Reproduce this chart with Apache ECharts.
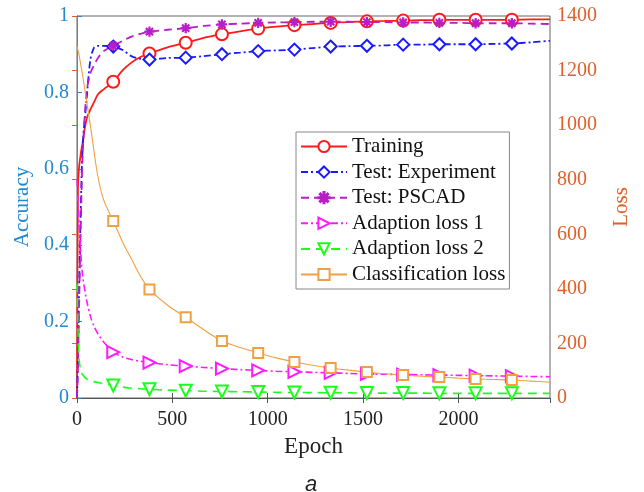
<!DOCTYPE html>
<html>
<head>
<meta charset="utf-8">
<script src="https://cdn.jsdelivr.net/npm/echarts@6/dist/echarts.min.js"></script>
<style>html,body{margin:0;padding:0;background:#fff;}#c{width:644px;height:492px;}</style>
</head>
<body>
<div id="c"></div>
<script>
// Epoch samples (shared by all series)
const epochs = [0, 5, 10, 20, 30, 50, 70, 90, 110, 140, 190, 240, 285, 330, 380, 475, 570, 665, 760, 855, 950, 1045, 1140, 1235, 1330, 1425, 1520, 1615, 1710, 1805, 1900, 1995, 2090, 2185, 2280, 2380, 2480];
// Epochs that carry a marker
const markerEpochs = [190, 380, 570, 760, 950, 1140, 1330, 1520, 1710, 1900, 2090, 2280];

// Accuracy series (left axis)
const training = [0, 0.55, 0.60, 0.64, 0.67, 0.73, 0.755, 0.775, 0.795, 0.808, 0.828, 0.858, 0.878, 0.892, 0.902, 0.918, 0.930, 0.943, 0.952, 0.960, 0.967, 0.972, 0.976, 0.979, 0.982, 0.984, 0.986, 0.987, 0.988, 0.989, 0.990, 0.990, 0.990, 0.990, 0.990, 0.991, 0.991];
const testExperiment = [0, 0.10, 0.25, 0.50, 0.66, 0.78, 0.885, 0.918, 0.922, 0.922, 0.920, 0.911, 0.895, 0.888, 0.886, 0.890, 0.891, 0.895, 0.900, 0.904, 0.908, 0.910, 0.912, 0.916, 0.920, 0.921, 0.922, 0.923, 0.925, 0.925, 0.926, 0.926, 0.926, 0.927, 0.928, 0.931, 0.935];
const testPSCAD = [0, 0.08, 0.22, 0.45, 0.64, 0.80, 0.85, 0.872, 0.89, 0.908, 0.922, 0.935, 0.946, 0.953, 0.959, 0.964, 0.968, 0.974, 0.978, 0.980, 0.982, 0.983, 0.984, 0.985, 0.985, 0.985, 0.984, 0.984, 0.983, 0.983, 0.982, 0.982, 0.981, 0.981, 0.981, 0.980, 0.979];

// Loss series (right axis)
const adaptionLoss1 = [800, 720, 650, 530, 445, 360, 300, 262, 235, 205, 168, 150, 141, 135, 130, 122, 117, 112, 108, 104, 101, 98, 96, 94, 92, 90, 88, 87, 86, 85, 84, 83, 82, 81, 80, 79, 78];
const adaptionLoss2 = [420, 250, 150, 100, 85, 70, 64, 60, 57, 52, 46, 40, 36, 34, 32, 29, 27, 25, 24, 23, 22, 21, 20, 20, 19, 19, 18, 18, 18, 18, 17, 17, 17, 17, 17, 17, 17];
const classificationLoss = [1290, 1275, 1260, 1220, 1180, 1090, 1000, 900, 810, 725, 649, 570, 510, 450, 398, 340, 296, 250, 209, 185, 165, 147, 132, 120, 110, 102, 95, 89, 84, 80, 77, 73, 70, 68, 66, 62, 58];

// Axis ticks
const accTicks = [0, 0.2, 0.4, 0.6, 0.8, 1];
const lossTicks = [0, 200, 400, 600, 800, 1000, 1200, 1400];
const epochTicks = [0, 500, 1000, 1500, 2000];

const asterisk = 'path://M0,4.5L10,4.5L10,5.5L0,5.5Z M4.5,0L5.5,0L5.5,10L4.5,10Z M1.85,1.15L8.85,8.15L8.15,8.85L1.15,1.85Z M8.15,1.15L8.85,1.85L1.85,8.85L1.15,8.15Z';

function build(values) {
  return epochs.map((e, i) => {
    const item = { value: [e, values[i]] };
    if (markerEpochs.indexOf(e) < 0) item.symbol = 'none';
    return item;
  });
}

const SERIF = '"Liberation Serif", "DejaVu Serif", serif';
const BLUE = '#2489d2';
const ORANGE = '#e0602a';

const chart = echarts.init(document.getElementById('c'), null, { renderer: 'canvas' });

function mk(name, values, color, lineType, width, symbol, size, yIdx, rot) {
  return {
    name: name, type: 'line', yAxisIndex: yIdx, xAxisIndex: 0,
    data: build(values), smooth: 0.3, showAllSymbol: true,
    symbol: symbol, symbolSize: size, symbolRotate: rot || 0,
    color: color,
    lineStyle: { color: color, width: width, type: lineType },
    itemStyle: { color: color, borderColor: color, borderWidth: 1.3 },
    emphasis: { disabled: true },
    animation: false, z: 3
  };
}

const option = {
  animation: false,
  backgroundColor: '#fff',
  grid: { left: 77, right: 94, top: 16, bottom: 94, show: true, borderColor: '#666', borderWidth: 1 },
  legend: {
    orient: 'vertical', left: 296, top: 132,
    padding: [4, 4, 4, 4], itemGap: 4.6, itemWidth: 46, itemHeight: 14,
    backgroundColor: '#fff', borderColor: '#888', borderWidth: 1,
    textStyle: { fontFamily: SERIF, fontSize: 21, color: '#111', lineHeight: 21 },
    data: ['Training', 'Test: Experiment', 'Test: PSCAD', 'Adaption loss 1', 'Adaption loss 2', 'Classification loss']
  },
  graphic: [{
    type: 'text', left: 305, top: 474,
    style: { text: 'a', font: 'italic 22px "Liberation Sans", Arial, sans-serif', fill: '#222' }
  }],
  xAxis: [{
    type: 'value', min: 0, max: 2480, interval: 500, position: 'bottom',
    name: 'Epoch', nameLocation: 'middle', nameGap: 37,
    nameTextStyle: { fontFamily: SERIF, fontSize: 23, color: '#222' },
    axisLine: { lineStyle: { color: '#555' } },
    axisTick: { inside: true, length: 5, lineStyle: { color: '#555' } },
    axisLabel: { fontFamily: SERIF, fontSize: 20, color: '#222', margin: 12,
      formatter: v => (epochTicks.indexOf(v) >= 0 ? String(v) : '') ,
      showMaxLabel: false },
    splitLine: { show: false }
  }, {
    type: 'value', min: 0, max: 2480, interval: 500, position: 'top',
    axisLine: { lineStyle: { color: '#555' } },
    axisTick: { inside: true, length: 5, lineStyle: { color: '#555' } },
    axisLabel: { show: false }, splitLine: { show: false }
  }],
  yAxis: [{
    type: 'value', min: 0, max: 1, interval: 0.2, position: 'left',
    name: 'Accuracy', nameLocation: 'middle', nameGap: 37, nameRotate: 90,
    nameTextStyle: { fontFamily: SERIF, fontSize: 21, color: BLUE },
    axisLine: { show: true, lineStyle: { color: BLUE } },
    axisTick: { show: true, inside: true, length: 5, lineStyle: { color: BLUE } },
    axisLabel: { fontFamily: SERIF, fontSize: 20, color: BLUE, margin: 8,
      formatter: v => { const t = accTicks.find(a => Math.abs(a - v) < 1e-9); return t === undefined ? '' : String(t); } },
    splitLine: { show: false }
  }, {
    type: 'value', min: 0, max: 1400, interval: 200, position: 'right',
    name: 'Loss', nameLocation: 'middle', nameGap: 61, nameRotate: 90,
    nameTextStyle: { fontFamily: SERIF, fontSize: 21, color: ORANGE },
    axisLine: { show: true, lineStyle: { color: ORANGE } },
    axisTick: { show: true, inside: true, length: 5, lineStyle: { color: ORANGE } },
    axisLabel: { fontFamily: SERIF, fontSize: 20, color: ORANGE, margin: 7,
      formatter: v => (lossTicks.indexOf(v) >= 0 ? String(v) : '') },
    splitLine: { show: false }
  }],
  series: [
    mk('Training', training, '#ff1a1a', 'solid', 1.8, 'emptyCircle', 12, 0),
    mk('Test: Experiment', testExperiment, '#1a1aff', [7, 3, 2, 3], 1.8, 'emptyDiamond', 12, 0),
    mk('Test: PSCAD', testPSCAD, '#b81ec8', [8, 5], 1.8, asterisk, 9, 0),
    mk('Adaption loss 1', adaptionLoss1, '#ff1aff', [7, 3, 2, 3], 1.6, 'emptyTriangle', 12, 1, -90),
    mk('Adaption loss 2', adaptionLoss2, '#1aff1a', [9, 6], 1.6, 'emptyTriangle', 12, 1, 180),
    mk('Classification loss', classificationLoss, '#f0a040', 'solid', 1.1, 'emptyRect', 10, 1)
  ]
};
chart.setOption(option);
</script>
</body>
</html>
